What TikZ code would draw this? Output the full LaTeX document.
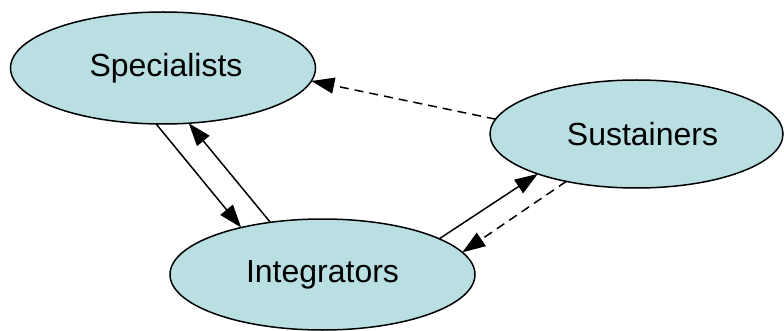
\documentclass[tikz,border=0pt]{standalone}
\usepackage{fontspec}
\setmainfont{Liberation Sans}
\usetikzlibrary{shapes.geometric,arrows.meta}
\definecolor{roleFill}{RGB}{185,223,226}
\tikzset{
  role/.style={ellipse, draw=black, line width=1.5pt, fill=roleFill,
    inner sep=0pt, outer sep=0pt,
    font=\fontsize{32}{38}\selectfont},
  link/.style={line width=1.5pt, -{Triangle[length=23pt,width=16pt]}},
  weaklink/.style={link, dash pattern=on 9pt off 6pt}
}
\begin{document}
\begin{tikzpicture}[x=1pt,y=-1pt]
  \useasboundingbox (0,0) rectangle (784,331);
  % labels sit slightly right of the ellipse centres
  \node[role, minimum width=305pt, minimum height=112pt] (spec) at (163,68) {\hspace*{6pt}Specialists};
  \node[role, minimum width=293pt, minimum height=108pt] (sust) at (636.5,134) {\hspace*{12pt}Sustainers};
  \node[role, minimum width=305pt, minimum height=111pt] (integ) at (322.5,274.5) {Integrators};

  \draw[link] (spec.-97.8) -- (integ.150.1);
  \draw[link] (integ.135.5) -- (spec.-65.9);
  \draw[weaklink] (sust.174.4) -- (spec.-5.7);
  \draw[link] (integ.17.7) -- (sust.-158.6);
  \draw[weaklink] (sust.-146.1) -- (integ.9.7);
\end{tikzpicture}
\end{document}
